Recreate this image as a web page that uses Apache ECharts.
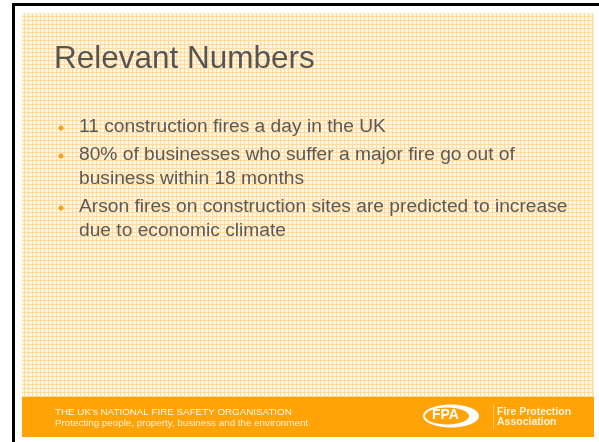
<!DOCTYPE html>
<html>
<head>
<meta charset="utf-8">
<script src="https://cdn.jsdelivr.net/npm/echarts@6/dist/echarts.min.js"></script>
<style>
  html, body { margin: 0; padding: 0; background: #fff; }
  #main { width: 599px; height: 442px; }
</style>
</head>
<body>
<div id="main"></div>
<script>
// slide content
var titleText = 'Relevant Numbers';
var bullets = [
  ['11 construction fires a day in the UK'],
  ['80% of businesses who suffer a major fire go out of', 'business within 18 months'],
  ['Arson fires on construction sites are predicted to increase', 'due to economic climate']
];
var footerLines = ['THE UK\u2019s NATIONAL FIRE SAFETY ORGANISATION',
  'Protecting people, property, business and the environment'];
var logoText = 'FPA';
var logoName = ['Fire Protection', 'Association'];

var orange = '#ffa306';
var textColor = '#595959';

// little grid pattern like the slide background
function makePattern() {
  var c = document.createElement('canvas');
  c.width = 4; c.height = 4;
  var ctx = c.getContext('2d');
  ctx.fillStyle = '#fff4e0';
  ctx.fillRect(0, 0, 4, 4);
  ctx.fillStyle = '#ffdb9c';
  ctx.fillRect(0, 0, 4, 1);
  ctx.fillRect(0, 0, 1, 4);
  ctx.fillStyle = '#ffffff';
  ctx.fillRect(2, 2, 1, 1);
  return c;
}

var myChart = echarts.init(document.getElementById('main'));

var elements = [];
// frame
elements.push({ type: 'rect', shape: { x: 12, y: 3, width: 587, height: 3 }, style: { fill: '#000' } });
elements.push({ type: 'rect', shape: { x: 12, y: 3, width: 3, height: 439 }, style: { fill: '#000' } });
// slide background
elements.push({ type: 'rect', shape: { x: 22, y: 13, width: 572, height: 385 },
  style: { fill: { image: makePattern(), repeat: 'repeat' } } });
// footer band
elements.push({ type: 'rect', shape: { x: 22, y: 397, width: 572, height: 40 }, style: { fill: orange } });

// title
elements.push({ type: 'text', left: 54, top: 43,
  style: { text: titleText, fill: '#555555', font: '31.5px "Liberation Sans", Arial, sans-serif' } });

// bullets
var y = 117;
for (var i = 0; i < bullets.length; i++) {
  elements.push({ type: 'circle', shape: { cx: 61, cy: y + 11, r: 2.5 }, style: { fill: '#f7a21b' } });
  for (var j = 0; j < bullets[i].length; j++) {
    elements.push({ type: 'text', left: 79, top: y,
      style: { text: bullets[i][j], fill: textColor, font: '19.2px "Liberation Sans", Arial, sans-serif' } });
    y += 24;
  }
  y += 4;
}

// footer text
for (var k = 0; k < footerLines.length; k++) {
  elements.push({ type: 'text', left: 55, top: 407 + k * 11,
    style: { text: footerLines[k], fill: k == 0 ? '#fff8ea' : '#fff0d2', font: '9.8px "Liberation Sans", Arial, sans-serif' } });
}

// logo
elements.push({ type: 'ellipse', shape: { cx: 451, cy: 416, rx: 28, ry: 11.5 }, style: { fill: '#fff' } });
elements.push({ type: 'ellipse', shape: { cx: 447, cy: 416, rx: 22, ry: 8.5 }, style: { fill: orange } });
elements.push({ type: 'text', left: 432, top: 408,
  style: { text: logoText, fill: '#fff', font: 'bold 14px "Liberation Sans", Arial, sans-serif' } });
elements.push({ type: 'rect', shape: { x: 493, y: 404, width: 1, height: 26 }, style: { fill: '#ffc862' } });
for (var m = 0; m < logoName.length; m++) {
  elements.push({ type: 'text', left: 497, top: 407 + m * 10,
    style: { text: logoName[m], fill: '#fff3dc', font: 'bold 10.5px "Liberation Sans", Arial, sans-serif' } });
}

var option = {
  backgroundColor: '#fff',
  animation: false,
  graphic: { elements: elements }
};
myChart.setOption(option);
</script>
</body>
</html>
